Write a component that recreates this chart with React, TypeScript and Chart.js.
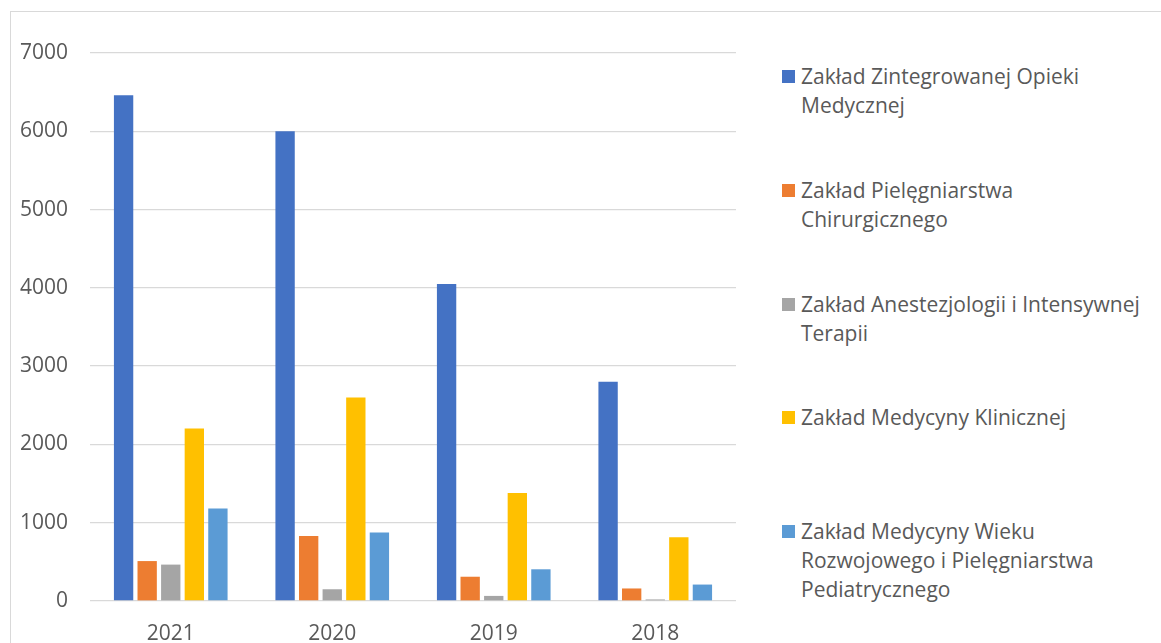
import React, { useEffect, useRef } from "react";
import { Chart, registerables } from "chart.js";

Chart.register(...registerables);

const categories = ["2021", "2020", "2019", "2018"];
const seriesNames = [
  "Zakład Zintegrowanej Opieki Medycznej",
  "Zakład Pielęgniarstwa Chirurgicznego",
  "Zakład Anestezjologii i Intensywnej Terapii",
  "Zakład Medycyny Klinicznej",
  "Zakład Medycyny Wieku Rozwojowego i Pielęgniarstwa Pediatrycznego",
];
const zintegrowanejOpieki = [6460, 6000, 4050, 2800];
const pielegniarstwaChirurgicznego = [510, 830, 310, 160];
const anestezjologii = [465, 150, 65, 20];
const medycynyKlinicznej = [2205, 2600, 1380, 815];
const medycynyWieku = [1180, 875, 405, 210];
const yTicks = [0, 1000, 2000, 3000, 4000, 5000, 6000, 7000];

const seriesValues = [
  zintegrowanejOpieki,
  pielegniarstwaChirurgicznego,
  anestezjologii,
  medycynyKlinicznej,
  medycynyWieku,
];
const colors = ["#4472C4", "#ED7D31", "#A5A5A5", "#FFC000", "#5B9BD5"];

const FONT = "'Open Sans', 'Noto Sans', sans-serif";
const TEXT = "#595959";

export default function App() {
  const ref = useRef<HTMLCanvasElement | null>(null);

  useEffect(() => {
    if (!ref.current) return;
    const chart = new Chart(ref.current, {
      type: "bar",
      data: {
        labels: categories,
        datasets: seriesNames.map((name, i) => ({
          label: name,
          data: seriesValues[i],
          backgroundColor: colors[i],
          borderWidth: 0,
          categoryPercentage: 0.73,
          barPercentage: 0.82,
        })),
      },
      options: {
        animation: false,
        responsive: false,
        maintainAspectRatio: false,
        layout: { padding: { top: 53, right: 4, left: 0, bottom: 0 } },
        plugins: {
          legend: { display: false },
          tooltip: { enabled: false },
        },
        scales: {
          x: {
            grid: { display: false, drawTicks: false },
            border: { display: false },
            ticks: {
              color: TEXT,
              font: { family: FONT, size: 21 },
              padding: 20,
            },
            afterFit: (s: any) => {
              s.height = 42;
            },
          },
          y: {
            min: 0,
            max: 7000,
            afterBuildTicks: (s: any) => {
              s.ticks = yTicks.map((v) => ({ value: v }));
            },
            grid: { color: "#d9d9d9", lineWidth: 1.3, drawTicks: false },
            border: { display: false },
            ticks: {
              color: TEXT,
              font: { family: FONT, size: 21 },
              padding: 22,
              callback: (v: any) => String(v),
            },
            afterFit: (s: any) => {
              s.width = 90;
            },
          },
        },
      },
    });
    return () => chart.destroy();
  }, []);

  return (
    <div
      style={{
        position: "fixed",
        inset: 0,
        overflow: "hidden",
        background: "#fff",
        fontFamily: FONT,
      }}
    >
      <div
        style={{
          position: "absolute",
          left: 10,
          top: 11,
          width: 1300,
          height: 800,
          border: "1.3px solid #d9d9d9",
        }}
      />
      <canvas
        ref={ref}
        width={740}
        height={643}
        style={{ position: "absolute", left: 0, top: 0, width: 740, height: 643 }}
      />
      {seriesNames.map((name, i) => (
        <div
          key={name}
          style={{
            position: "absolute",
            left: 782,
            top: 76.7 + i * 113.75 - 14.5,
            width: 375,
            display: "flex",
            alignItems: "flex-start",
          }}
        >
          <div
            style={{
              width: 13,
              height: 13,
              background: colors[i],
              marginTop: 8,
              marginRight: 6,
              flex: "none",
            }}
          />
          <div
            style={{
              width: 348,
              fontSize: 21,
              lineHeight: "29px",
              color: TEXT,
            }}
          >
            {name}
          </div>
        </div>
      ))}
    </div>
  );
}
